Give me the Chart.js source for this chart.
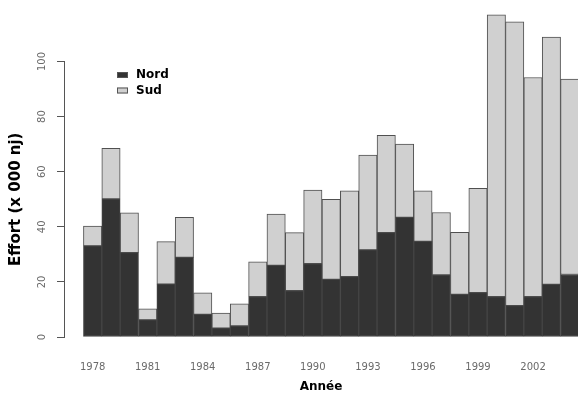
<!DOCTYPE html>
<html>
<head>
<meta charset="utf-8">
<script src="https://cdn.jsdelivr.net/npm/chart.js@4/dist/chart.umd.min.js"></script>
<style>
  html, body { margin: 0; padding: 0; background: #ffffff; }
  #wrap { position: relative; width: 578px; height: 393px; }
</style>
</head>
<body>
<div id="wrap"><canvas id="c" width="578" height="393"></canvas></div>
<script>
// Fishing effort per year, split between the northern and southern zones
const years = [1978, 1979, 1980, 1981, 1982, 1983, 1984, 1985, 1986, 1987,
               1988, 1989, 1990, 1991, 1992, 1993, 1994, 1995, 1996, 1997,
               1998, 1999, 2000, 2001, 2002, 2003, 2004];
const nord = [33.1, 50.1, 30.6, 6.2, 19.2, 28.9, 8.2, 3.2, 4.0, 14.6,
              26.0, 16.8, 26.6, 20.9, 21.9, 31.6, 37.9, 43.4, 34.7, 22.5,
              15.5, 16.1, 14.6, 11.4, 14.6, 19.1, 22.7];
const sud = [7.2, 18.4, 14.5, 4.0, 15.4, 14.5, 7.8, 5.5, 8.0, 12.7,
             18.6, 21.1, 26.7, 29.1, 31.2, 34.4, 35.3, 26.6, 18.4, 22.7,
             22.5, 37.9, 102.3, 103.0, 79.6, 89.8, 70.9];
const yearTicks = [1978, 1981, 1984, 1987, 1990, 1993, 1996, 1999, 2002];
const effortTicks = [0, 20, 40, 60, 80, 100];
const seriesNames = ['Nord', 'Sud'];

// Small legend drawn inside the plot, upper left
const cornerLegend = {
  id: 'cornerLegend',
  afterDraw(chart) {
    const ctx = chart.ctx;
    ctx.save();
    chart.data.datasets.forEach((ds, i) => {
      const cy = 75 + i * 15.5;
      ctx.fillStyle = ds.backgroundColor;
      ctx.strokeStyle = '#555555';
      ctx.lineWidth = 1;
      ctx.fillRect(117, cy - 3, 11, 6);
      ctx.strokeRect(117.5, cy - 2.5, 10, 5);
      ctx.fillStyle = '#000000';
      ctx.font = 'bold 12px "DejaVu Sans"';
      ctx.textAlign = 'left';
      ctx.textBaseline = 'middle';
      ctx.fillText(ds.label, 136, cy);
    });
    ctx.restore();
  }
};

new Chart(document.getElementById('c'), {
  type: 'bar',
  data: {
    labels: years,
    datasets: [
      {
        label: seriesNames[0],
        data: nord,
        backgroundColor: '#333333',
        borderColor: '#454545',
        borderWidth: 1,
        borderSkipped: false,
        barPercentage: 1,
        categoryPercentage: 1,
        clip: false
      },
      {
        label: seriesNames[1],
        data: sud,
        backgroundColor: '#d0d0d0',
        borderColor: '#505050',
        borderWidth: 1,
        borderSkipped: false,
        barPercentage: 1,
        categoryPercentage: 1,
        clip: false
      }
    ]
  },
  options: {
    responsive: false,
    animation: false,
    layout: { padding: { top: 61.5, left: 0, right: 0, bottom: 0 } },
    plugins: {
      legend: { display: false },
      tooltip: { enabled: false }
    },
    scales: {
      x: {
        type: 'linear',
        stacked: true,
        offset: false,
        min: 1976.44,
        max: 2004.45,
        grid: { display: false },
        border: { display: false },
        afterBuildTicks(scale) {
          scale.ticks = yearTicks.map(v => ({ value: v }));
        },
        afterFit(scale) {
          scale.height = 56;
          scale.paddingLeft = 0;
          scale.paddingRight = 0;
        },
        ticks: {
          autoSkip: false,
          maxRotation: 0,
          padding: 16,
          color: '#6a6a6a',
          font: { family: 'DejaVu Sans', size: 10 },
          callback: v => String(v)
        },
        title: {
          display: true,
          text: 'Année',
          color: '#000000',
          font: { family: 'DejaVu Sans', size: 12, weight: 'bold', lineHeight: 1 },
          padding: { top: 0, bottom: 0 }
        }
      },
      y: {
        stacked: true,
        min: 0,
        max: 100,
        afterBuildTicks(scale) {
          scale.ticks = effortTicks.map(v => ({ value: v }));
        },
        afterFit(scale) {
          scale.width = 64;
          scale.paddingTop = 0;
          scale.paddingBottom = 0;
        },
        grid: {
          display: true,
          drawOnChartArea: false,
          drawTicks: true,
          tickLength: 7,
          tickColor: '#555555'
        },
        border: { display: true, color: '#555555', width: 1 },
        ticks: {
          minRotation: 90,
          maxRotation: 90,
          crossAlign: 'center',
          padding: 5,
          color: '#6a6a6a',
          font: { family: 'DejaVu Sans', size: 10 }
        },
        title: {
          display: true,
          text: 'Effort (x 000 nj)',
          color: '#000000',
          font: { family: 'DejaVu Sans', size: 15, weight: 'bold', lineHeight: 1 },
          padding: { top: 9, bottom: 0 }
        }
      }
    }
  },
  plugins: [cornerLegend]
});
</script>
</body>
</html>
